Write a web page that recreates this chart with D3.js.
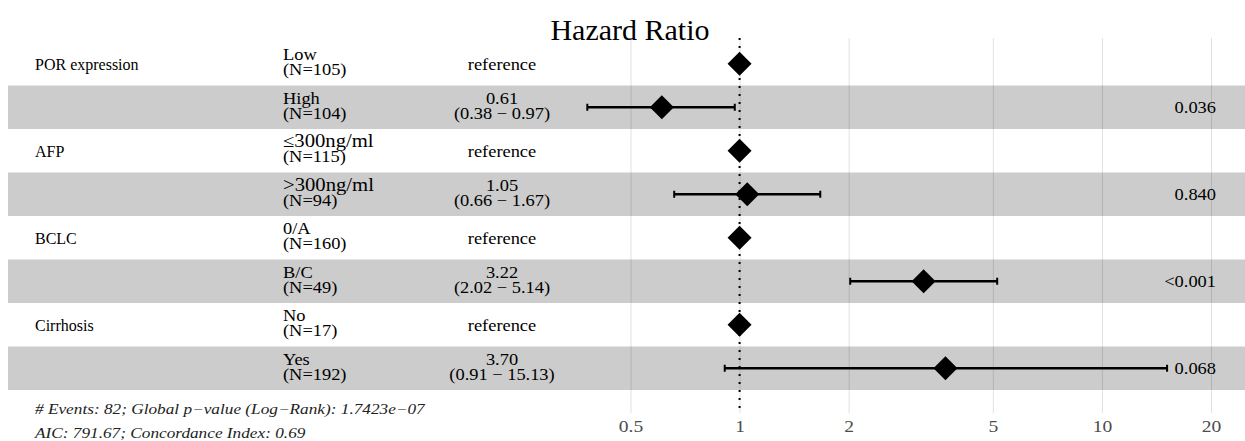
<!DOCTYPE html>
<html>
<head>
<meta charset="utf-8">
<script src="https://cdn.jsdelivr.net/npm/d3@7"></script>
<style>
  body { margin: 0; background: #fff; }
  text { font-family: "Liberation Serif", "Times New Roman", serif; }
</style>
</head>
<body>
<svg id="chart"></svg>
<script>
let width = 1245;
let height = 441;

// data
let variables = ["POR expression", "", "AFP", "", "BCLC", "", "Cirrhosis", ""];
let levels = ["Low", "High", "\u2264300ng/ml", ">300ng/ml", "0/A", "B/C", "No", "Yes"];
let counts = [105, 104, 115, 94, 160, 49, 17, 192];
let hr = [1, 0.61, 1, 1.05, 1, 3.22, 1, 3.70];
let lower = [null, 0.38, null, 0.66, null, 2.02, null, 0.91];
let upper = [null, 0.97, null, 1.67, null, 5.14, null, 15.13];
let pvals = ["", "0.036", "", "0.840", "", "<0.001", "", "0.068"];
let ticks = [0.5, 1, 2, 5, 10, 20];
let footer = [
  "# Events: 82; Global p\u2212value (Log\u2212Rank): 1.7423e\u221207",
  "AIC: 791.67; Concordance Index: 0.69"
];

let rows = levels.map((d, i) => ({
  i: i, variable: variables[i], level: d, n: counts[i],
  hr: hr[i], lo: lower[i], hi: upper[i], p: pvals[i]
}));

// most text in the picture is a bit wider than the font
let sx = 1.15;
let place = (x, y) => "translate(" + x + "," + y + ") scale(" + sx + ",1)";

let svg = d3.select("#chart").attr("width", width).attr("height", height);

let x = d3.scaleLog().domain([0.5, 20]).range([630.5, 1211]);
let y = d3.scaleBand().domain(d3.range(rows.length)).range([42, 390]);
let plotTop = 38, plotBottom = 413;
let cy = d => y(d.i) + y.bandwidth() / 2;

// shaded bands for every second row
svg.selectAll("rect.band")
  .data(rows.filter(d => d.i % 2 == 1))
  .enter()
  .append("rect")
  .attr("class", "band")
  .attr("x", 8)
  .attr("width", width - 8)
  .attr("y", d => y(d.i))
  .attr("height", y.bandwidth())
  .attr("fill", "#cccccc");

// grid lines
svg.append("g")
  .attr("transform", "translate(0," + plotBottom + ")")
  .call(d3.axisBottom(x).tickValues(ticks).tickSize(-(plotBottom - plotTop)).tickFormat(""))
  .call(g => g.select(".domain").remove())
  .call(g => g.selectAll("line").attr("stroke", "rgba(0,0,0,0.12)").attr("stroke-width", 1));

// axis labels
svg.append("g")
  .attr("transform", "translate(0," + plotBottom + ")")
  .call(d3.axisBottom(x).tickValues(ticks).tickSize(0).tickPadding(7).tickFormat(d3.format("")))
  .call(g => g.select(".domain").remove())
  .call(g => g.selectAll("text")
    .attr("fill", "#4d4d4d")
    .attr("transform", "scale(" + sx + ",1)")
    .style("font-size", "17px")
    .style("font-family", '"Liberation Serif", "Times New Roman", serif'));

// reference line at HR = 1
svg.append("line")
  .attr("x1", x(1)).attr("x2", x(1))
  .attr("y1", plotTop).attr("y2", plotBottom)
  .attr("stroke", "#000")
  .attr("stroke-width", 2)
  .attr("stroke-dasharray", "2,6");

// title
svg.append("text")
  .attr("x", 630)
  .attr("y", 40)
  .attr("text-anchor", "middle")
  .style("font-size", "30px")
  .text("Hazard Ratio");

// variable names
svg.selectAll("text.var")
  .data(rows.filter(d => d.variable != ""))
  .enter()
  .append("text")
  .attr("class", "var")
  .attr("x", 35)
  .attr("y", d => cy(d) + 6)
  .style("font-size", "16px")
  .text(d => d.variable);

// level + N
let lev = svg.selectAll("g.level")
  .data(rows)
  .enter()
  .append("g")
  .attr("class", "level");
lev.append("text")
  .attr("transform", d => place(283, cy(d) - 3.5))
  .style("font-size", d => d.level.indexOf("ng") >= 0 ? "18px" : "16px")
  .text(d => d.level);
lev.append("text")
  .attr("transform", d => place(283, cy(d) + 11.5))
  .style("font-size", "16px")
  .text(d => "(N=" + d.n + ")");

// estimate column
let est = svg.selectAll("g.est")
  .data(rows)
  .enter()
  .append("g")
  .attr("class", "est")
  .attr("text-anchor", "middle")
  .style("font-size", "16px")
  .style("white-space", "pre");
est.filter(d => d.lo == null).append("text")
  .attr("transform", d => place(502, cy(d) + 6))
  .text("reference");
est.filter(d => d.lo != null).append("text")
  .attr("transform", d => place(502, cy(d) - 3.5))
  .text(d => d.hr.toFixed(2));
est.filter(d => d.lo != null).append("text")
  .attr("transform", d => place(502, cy(d) + 12))
  .text(d => {
    let hiTxt = d.hi.toFixed(2);
    if (hiTxt.length < 5) hiTxt = " " + hiTxt;
    return "(" + d.lo.toFixed(2) + " \u2212 " + hiTxt + ")";
  });

// confidence intervals
let ci = rows.filter(d => d.lo != null);
svg.selectAll("line.ci")
  .data(ci)
  .enter()
  .append("line")
  .attr("class", "ci")
  .attr("x1", d => x(d.lo)).attr("x2", d => x(d.hi))
  .attr("y1", cy).attr("y2", cy)
  .attr("stroke", "#000").attr("stroke-width", 2.5);
["lo", "hi"].forEach(k => {
  svg.selectAll("line.cap-" + k)
    .data(ci)
    .enter()
    .append("line")
    .attr("class", "cap-" + k)
    .attr("x1", d => x(d[k])).attr("x2", d => x(d[k]))
    .attr("y1", d => cy(d) - 3.5).attr("y2", d => cy(d) + 3.5)
    .attr("stroke", "#000").attr("stroke-width", 2);
});

// diamonds
let s = 12;
svg.selectAll("path.pt")
  .data(rows)
  .enter()
  .append("path")
  .attr("class", "pt")
  .attr("transform", d => "translate(" + x(d.hr) + "," + cy(d) + ")")
  .attr("d", "M0," + (-s) + "L" + s + ",0L0," + s + "L" + (-s) + ",0Z")
  .attr("fill", "#000");

// p values
svg.selectAll("text.p")
  .data(rows.filter(d => d.p != ""))
  .enter()
  .append("text")
  .attr("class", "p")
  .attr("transform", d => place(1216, cy(d) + 6))
  .attr("text-anchor", "end")
  .style("font-size", "16px")
  .text(d => d.p);

// footer notes
svg.selectAll("text.foot")
  .data(footer)
  .enter()
  .append("text")
  .attr("class", "foot")
  .attr("transform", (d, i) => place(35, 414 + i * 24))
  .style("font-size", "15px")
  .style("font-style", "italic")
  .attr("fill", "#222")
  .text(d => d);
</script>
</body>
</html>
